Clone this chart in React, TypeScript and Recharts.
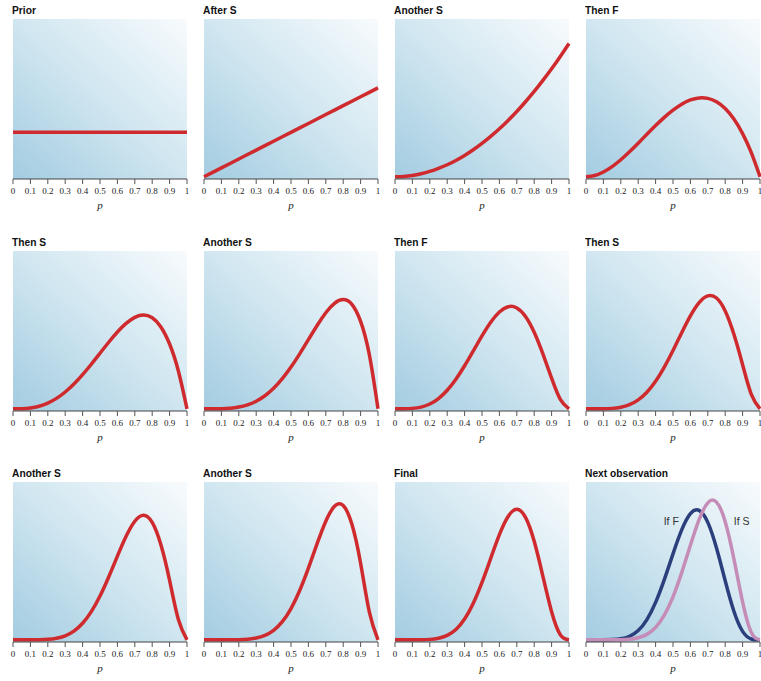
import React from 'react';
import { LineChart, Line, XAxis, YAxis, CartesianGrid, ReferenceDot } from 'recharts';

const P_GRID = [0, 0.05, 0.1, 0.15, 0.2, 0.25, 0.3, 0.35, 0.4, 0.45, 0.5, 0.55, 0.6, 0.65, 0.7, 0.75, 0.8, 0.85, 0.9, 0.95, 1];
const P_TICKS = [0, 0.1, 0.2, 0.3, 0.4, 0.5, 0.6, 0.7, 0.8, 0.9, 1];

const PRIOR = [1, 1, 1, 1, 1, 1, 1, 1, 1, 1, 1, 1, 1, 1, 1, 1, 1, 1, 1, 1, 1];
const AFTER_S = [0, 0.1, 0.2, 0.3, 0.4, 0.5, 0.6, 0.7, 0.8, 0.9, 1.0, 1.1, 1.2, 1.3, 1.4, 1.5, 1.6, 1.7, 1.8, 1.9, 2.0];
const ANOTHER_S_1 = [0, 0.008, 0.03, 0.068, 0.12, 0.188, 0.27, 0.368, 0.48, 0.608, 0.75, 0.908, 1.08, 1.268, 1.47, 1.688, 1.92, 2.168, 2.43, 2.708, 3.0];
const THEN_F_1 = [0, 0.029, 0.108, 0.23, 0.384, 0.563, 0.756, 0.956, 1.152, 1.337, 1.5, 1.634, 1.728, 1.775, 1.764, 1.688, 1.536, 1.301, 0.972, 0.542, 0];
const THEN_S_1 = [0, 0.002, 0.018, 0.057, 0.128, 0.234, 0.378, 0.557, 0.768, 1.002, 1.25, 1.497, 1.728, 1.922, 2.058, 2.109, 2.048, 1.842, 1.458, 0.857, 0];
const ANOTHER_S_2 = [0, 0, 0.003, 0.013, 0.038, 0.088, 0.17, 0.293, 0.461, 0.677, 0.938, 1.235, 1.555, 1.874, 2.161, 2.373, 2.458, 2.349, 1.968, 1.222, 0];
const THEN_F_2 = [0, 0.001, 0.009, 0.038, 0.108, 0.231, 0.417, 0.666, 0.968, 1.303, 1.641, 1.946, 2.177, 2.296, 2.269, 2.076, 1.72, 1.233, 0.689, 0.214, 0];
const THEN_S_2 = [0, 0, 0.001, 0.009, 0.034, 0.092, 0.2, 0.373, 0.619, 0.938, 1.313, 1.712, 2.09, 2.388, 2.541, 2.492, 2.202, 1.677, 0.992, 0.325, 0];
const ANOTHER_S_3 = [0, 0, 0, 0.002, 0.01, 0.035, 0.09, 0.196, 0.372, 0.633, 0.984, 1.413, 1.881, 2.328, 2.668, 2.803, 2.642, 2.139, 1.339, 0.463, 0];
const ANOTHER_S_4 = [0, 0, 0, 0, 0.003, 0.012, 0.039, 0.098, 0.212, 0.407, 0.703, 1.11, 1.613, 2.162, 2.668, 3.003, 3.02, 2.597, 1.722, 0.629, 0];
const FINAL = [0, 0, 0, 0.001, 0.009, 0.034, 0.099, 0.233, 0.467, 0.821, 1.289, 1.831, 2.365, 2.774, 2.935, 2.753, 2.215, 1.428, 0.631, 0.115, 0];
const IF_F = [0, 0, 0, 0.004, 0.021, 0.076, 0.208, 0.455, 0.841, 1.354, 1.934, 2.472, 2.838, 2.913, 2.642, 2.065, 1.329, 0.642, 0.189, 0.017, 0];
const IF_S = [0, 0, 0, 0, 0.003, 0.013, 0.045, 0.122, 0.28, 0.554, 0.967, 1.511, 2.128, 2.705, 3.082, 3.097, 2.658, 1.821, 0.852, 0.164, 0];

const TITLES = ['Prior', 'After S', 'Another S', 'Then F', 'Then S', 'Another S', 'Then F', 'Then S', 'Another S', 'Another S', 'Final', 'Next observation'];

const IF_F_LABEL = { p: 0.49, y: 2.67, text: 'If F' };
const IF_S_LABEL = { p: 0.895, y: 2.67, text: 'If S' };

const RED = '#cf2a2e';
const NAVY = '#2b3f7d';
const PINK = '#c68cb8';

const COL_X = [13, 204, 395, 586];
const ROW_Y = [19, 251, 482];
const PLOT_W = 174;
const PLOT_H = 160;
const M_LEFT = 8;
const M_RIGHT = 10;
const AXIS_H = 42;

const TITLE_FONT = '"Liberation Sans", Arial, sans-serif';
const TICK_FONT = '"Liberation Serif", "DejaVu Serif", serif';

type S = { key: string; values: number[]; color: string; curve: 'linear' | 'natural' };

const PANELS: S[][] = [
  [{ key: 'v', values: PRIOR, color: RED, curve: 'linear' }],
  [{ key: 'v', values: AFTER_S, color: RED, curve: 'linear' }],
  [{ key: 'v', values: ANOTHER_S_1, color: RED, curve: 'natural' }],
  [{ key: 'v', values: THEN_F_1, color: RED, curve: 'natural' }],
  [{ key: 'v', values: THEN_S_1, color: RED, curve: 'natural' }],
  [{ key: 'v', values: ANOTHER_S_2, color: RED, curve: 'natural' }],
  [{ key: 'v', values: THEN_F_2, color: RED, curve: 'natural' }],
  [{ key: 'v', values: THEN_S_2, color: RED, curve: 'natural' }],
  [{ key: 'v', values: ANOTHER_S_3, color: RED, curve: 'natural' }],
  [{ key: 'v', values: ANOTHER_S_4, color: RED, curve: 'natural' }],
  [{ key: 'v', values: FINAL, color: RED, curve: 'natural' }],
  [
    { key: 'f', values: IF_F, color: NAVY, curve: 'natural' },
    { key: 's', values: IF_S, color: PINK, curve: 'natural' },
  ],
];

function Panel({ idx }: { idx: number }) {
  const col = idx % 4;
  const row = Math.floor(idx / 4);
  const series = PANELS[idx];
  const data = P_GRID.map((p, i) => {
    const r: any = { p };
    series.forEach((s) => (r[s.key] = s.values[i]));
    return r;
  });
  const gid = `bg${idx}`;
  const left = COL_X[col];
  const top = ROW_Y[row];
  return (
    <>
      <div
        style={{
          position: 'absolute',
          left: left - 1,
          top: top - 15,
          fontFamily: TITLE_FONT,
          fontWeight: 700,
          fontSize: 11,
          lineHeight: '12px',
          color: '#111',
          whiteSpace: 'nowrap',
          transform: 'scaleX(0.93)',
          transformOrigin: 'left top',
        }}
      >
        {TITLES[idx]}
      </div>
      <div style={{ position: 'absolute', left: left - M_LEFT, top }}>
        <LineChart
          width={M_LEFT + PLOT_W + M_RIGHT}
          height={PLOT_H + AXIS_H}
          data={data}
          margin={{ top: 0, right: M_RIGHT, left: M_LEFT, bottom: 0 }}
        >
          <defs>
            <linearGradient id={gid} x1="0" y1="1" x2="1" y2="0">
              <stop offset="0%" stopColor="#a3cce1" />
              <stop offset="50%" stopColor="#d0e6f0" />
              <stop offset="100%" stopColor="#f8fbfd" />
            </linearGradient>
          </defs>
          <CartesianGrid horizontal={false} vertical={false} fill={`url(#${gid})`} fillOpacity={1} stroke="none" />
          <XAxis
            dataKey="p"
            type="number"
            domain={[0, 1]}
            ticks={P_TICKS}
            interval={0}
            height={AXIS_H}
            tickSize={5}
            tickMargin={4}
            axisLine={{ stroke: '#444', strokeWidth: 1 }}
            tickLine={{ stroke: '#555', strokeWidth: 1 }}
            tick={{ fontSize: 9, fill: '#222', fontFamily: TICK_FONT }}
            tickFormatter={(v: number) => String(v)}
            label={{
              value: 'p',
              position: 'insideBottom',
              offset: 12,
              style: { fontSize: 11, fontStyle: 'italic', fontFamily: TICK_FONT, fill: '#222' },
            }}
          />
          <YAxis
            type="number"
            domain={[-0.05, 3.55]}
            width={0}
            tick={false}
            tickLine={false}
            axisLine={{ stroke: '#555', strokeWidth: 1.5 }}
          />
          {series.map((s) => (
            <Line
              key={s.key}
              dataKey={s.key}
              type={s.curve}
              stroke={s.color}
              strokeWidth={3.5}
              dot={false}
              activeDot={false}
              isAnimationActive={false}
            />
          ))}
          {idx === 11 && (
            <ReferenceDot
              x={IF_F_LABEL.p}
              y={IF_F_LABEL.y}
              r={0}
              fill="none"
              stroke="none"
              label={{ value: IF_F_LABEL.text, position: 'center', fontSize: 10.5, fill: '#333', fontFamily: TITLE_FONT }}
            />
          )}
          {idx === 11 && (
            <ReferenceDot
              x={IF_S_LABEL.p}
              y={IF_S_LABEL.y}
              r={0}
              fill="none"
              stroke="none"
              label={{ value: IF_S_LABEL.text, position: 'center', fontSize: 10.5, fill: '#333', fontFamily: TITLE_FONT }}
            />
          )}
        </LineChart>
      </div>
    </>
  );
}

export default function App() {
  return (
    <div style={{ position: 'absolute', left: 0, top: 0, width: 761, height: 681, background: '#fff', overflow: 'hidden' }}>
      {TITLES.map((_, i) => (
        <Panel key={i} idx={i} />
      ))}
    </div>
  );
}
